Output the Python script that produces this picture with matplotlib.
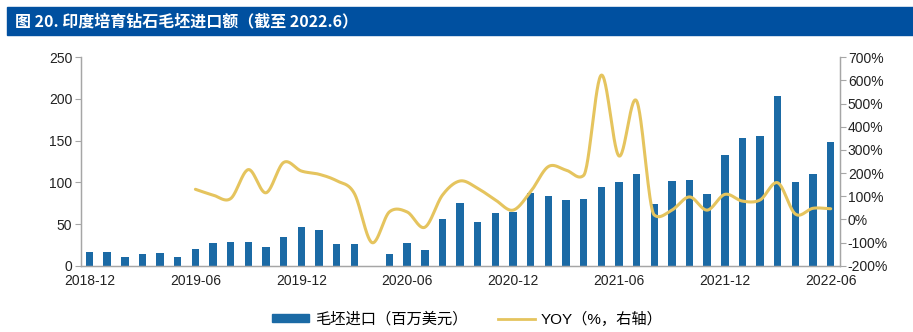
import numpy as np
import pandas as pd
import matplotlib
matplotlib.use("Agg")
import matplotlib.pyplot as plt
from matplotlib.patches import Rectangle, Patch
from matplotlib.lines import Line2D

plt.rcParams['font.family'] = ['Liberation Sans', 'Noto Sans CJK SC', 'DejaVu Sans']

months = [p.strftime('%Y-%m') for p in pd.period_range('2018-12', '2022-06', freq='M')]
imports = [16, 16, 11, 13.5, 15, 11, 20, 27.5, 28.5, 28.5, 22.5, 34, 46, 43, 26, 25.5,
           0, 13.7, 27, 18.5, 56, 75, 53, 63, 65, 87, 84, 79, 80.5, 95, 101, 110.5,
           73.5, 102, 103, 85.5, 132.5, 153.5, 155, 203, 100.5, 110, 148.5]
yoy = [None] * 6 + [130, 105, 90, 215, 115, 246, 209, 195, 167, 113, -100, 33, 32, -34,
                    105, 166, 134, 84, 40, 120, 228, 213, 190, 623, 274, 512, 19, 40, 97,
                    40, 108, 79, 84, 158, 23, 48, 46]
title = '图 20. 印度培育钻石毛坯进口额（截至 2022.6）'
bar_label = '毛坯进口（百万美元）'
line_label = 'YOY（%，右轴）'

BAR_C = '#1B6AA5'
LINE_C = '#E5C45E'
GRAY = '#A6A6A6'

fig = plt.figure(figsize=(9.13, 3.32), dpi=100)
ax = fig.add_axes([0.0884, 0.1997, 0.9195 - 0.0884, 0.8274 - 0.1997])
ax2 = ax.twinx()

x = np.arange(len(months))
ax.bar(x, imports, width=0.42, color=BAR_C, zorder=2)
ax.set_xlim(-0.5, len(months) - 0.5)
ax.set_ylim(0, 250)
ax.set_yticks(np.arange(0, 251, 50))

# smoothed YOY line (cubic Hermite with Catmull-Rom tangents, limited to curb overshoot)
idx = np.array([i for i, v in enumerate(yoy) if v is not None], dtype=float)
vals = np.array([v for v in yoy if v is not None], dtype=float)
n = len(vals)
delta = np.diff(vals)
m = np.zeros(n)
for i in range(n):
    if i == 0:
        m[i] = delta[0]
    elif i == n - 1:
        m[i] = delta[-1]
    else:
        m[i] = (vals[i + 1] - vals[i - 1]) / 2
        lim = 3 * max(min(abs(delta[i - 1]), abs(delta[i])), 20)
        m[i] = np.clip(m[i], -lim, lim)
xs, ys = [], []
t = np.linspace(0, 1, 30)
h00 = 2 * t**3 - 3 * t**2 + 1
h10 = t**3 - 2 * t**2 + t
h01 = -2 * t**3 + 3 * t**2
h11 = t**3 - t**2
for i in range(n - 1):
    xs.append(idx[i] + t)
    ys.append(h00 * vals[i] + h10 * m[i] + h01 * vals[i + 1] + h11 * m[i + 1])
ax2.plot(np.concatenate(xs), np.concatenate(ys), color=LINE_C, lw=2.2, zorder=3,
         solid_capstyle='round')
ax2.set_ylim(-200, 700)
ax2.set_yticks(np.arange(-200, 701, 100))
ax2.set_yticklabels([f'{v}%' for v in range(-200, 701, 100)])

ax.set_xticks(x[::6])
ax.set_xticklabels(months[::6])
ax.tick_params(axis='x', length=0, pad=6, labelsize=10, colors='#222222')
ax.tick_params(axis='y', length=4, color=GRAY, labelsize=10, colors='#222222', pad=2)
ax2.tick_params(axis='y', length=4, color=GRAY, labelsize=10, colors='#222222', pad=2)
for a in (ax, ax2):
    a.spines['top'].set_visible(False)
    for s in ('left', 'right', 'bottom'):
        a.spines[s].set_color(GRAY)
        a.spines[s].set_linewidth(0.9)

# title band
fig.patches.append(Rectangle((7 / 913, 1 - 35 / 332), 1 - 7 / 913, 28.5 / 332,
                             transform=fig.transFigure, color='#0050A0', zorder=0))
fig.text(15 / 913, 1 - 21 / 332, title, color='white', fontsize=11.5, fontweight='bold',
         va='center', ha='left', family=['Noto Sans CJK SC', 'DejaVu Sans'])

handles = [Patch(color=BAR_C), Line2D([0], [0], color=LINE_C, lw=2)]
fig.legend(handles, [bar_label, line_label], loc='center', ncol=2,
           bbox_to_anchor=(0.512, 1 - 319 / 332), frameon=False,
           handlelength=2.4, handleheight=0.5, columnspacing=2.0, handletextpad=0.4,
           prop={'family': ['Liberation Sans', 'Noto Sans CJK SC'], 'size': 11})

fig.savefig('out.png', dpi=100)
